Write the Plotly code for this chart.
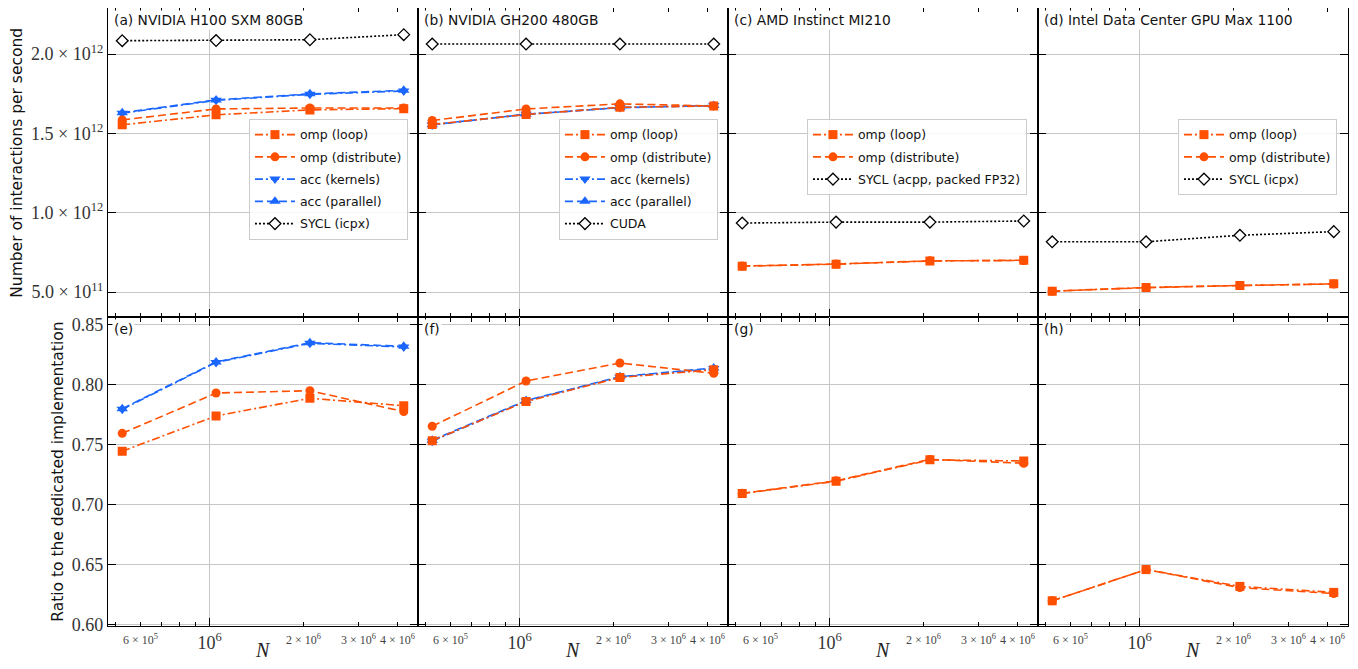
import math
import plotly.graph_objects as go
from plotly.subplots import make_subplots

# ---------------- data ----------------
N = [524288, 1048576, 2097152, 4194304]

# interactions per second, in units of 1e12
h100_loop = [1.554, 1.617, 1.648, 1.656]
h100_dist = [1.585, 1.654, 1.660, 1.660]
h100_kern = [1.627, 1.708, 1.746, 1.767]
h100_par = [1.630, 1.711, 1.749, 1.771]
h100_sycl = [2.084, 2.085, 2.090, 2.122]

gh200_loop = [1.556, 1.619, 1.664, 1.673]
gh200_dist = [1.581, 1.654, 1.686, 1.673]
gh200_kern = [1.553, 1.621, 1.663, 1.676]
gh200_par = [1.555, 1.620, 1.662, 1.675]
gh200_cuda = [2.063, 2.063, 2.063, 2.063]

mi210_loop = [0.663, 0.676, 0.696, 0.701]
mi210_dist = [0.664, 0.677, 0.697, 0.699]
mi210_sycl = [0.935, 0.941, 0.941, 0.948]

max1100_loop = [0.506, 0.529, 0.542, 0.552]
max1100_dist = [0.506, 0.528, 0.541, 0.551]
max1100_sycl = [0.817, 0.817, 0.858, 0.881]

# ratio to the dedicated implementation
h100_loop_r = [0.7446, 0.7740, 0.7887, 0.7825]
h100_dist_r = [0.7595, 0.7931, 0.7950, 0.7776]
h100_kern_r = [0.7795, 0.8186, 0.8345, 0.8314]
h100_par_r = [0.7800, 0.8190, 0.8350, 0.8320]

gh200_loop_r = [0.7534, 0.7860, 0.8060, 0.8125]
gh200_dist_r = [0.7654, 0.8031, 0.8181, 0.8095]
gh200_kern_r = [0.7530, 0.7865, 0.8063, 0.8135]
gh200_par_r = [0.7538, 0.7868, 0.8067, 0.8140]

mi210_loop_r = [0.7093, 0.7196, 0.7374, 0.7365]
mi210_dist_r = [0.7095, 0.7200, 0.7378, 0.7346]

max1100_loop_r = [0.620, 0.646, 0.632, 0.627]
max1100_dist_r = [0.620, 0.646, 0.631, 0.626]

panel_titles = ["(a) NVIDIA H100 SXM 80GB", "(b) NVIDIA GH200 480GB",
                "(c) AMD Instinct MI210", "(d) Intel Data Center GPU Max 1100"]
bottom_labels = ["(e)", "(f)", "(g)", "(h)"]
y_titles = ["Number of interactions per second", "Ratio to the dedicated implementation"]

top_yticks = [0.5e12, 1.0e12, 1.5e12, 2.0e12]
top_yticktext = ["5.0 × 10<sup>11</sup>", "1.0 × 10<sup>12</sup>",
                 "1.5 × 10<sup>12</sup>", "2.0 × 10<sup>12</sup>"]
bot_yticks = [0.60, 0.65, 0.70, 0.75, 0.80, 0.85]
bot_yticktext = ["0.60", "0.65", "0.70", "0.75", "0.80", "0.85"]
x_major = [1e6]
x_major_text = ["10<sup>6</sup>"]
x_minor = [5e5, 6e5, 7e5, 8e5, 9e5, 2e6, 3e6, 4e6]
x_minor_labels = [6e5, 2e6, 3e6, 4e6]
x_minor_text = ["6 × 10<sup>5</sup>", "2 × 10<sup>6</sup>", "3 × 10<sup>6</sup>", "4 × 10<sup>6</sup>"]

# ---------------- styles ----------------
ORANGE = "#FF4F00"
BLUE = "#1A66FF"
DASHDOT = "8px,3px,2px,3px"
DASH = "8px,4px"
DOT = "2px,2px"
STY = {
    "loop": dict(color=ORANGE, dash=DASHDOT, symbol="square", size=9),
    "dist": dict(color=ORANGE, dash=DASH, symbol="circle", size=9),
    "kern": dict(color=BLUE, dash=DASHDOT, symbol="triangle-down", size=10),
    "par": dict(color=BLUE, dash=DASH, symbol="triangle-up", size=10),
    "ref": dict(color="black", dash=DOT, symbol="diamond", size=9),
}
RANK = {"loop": 1, "dist": 2, "kern": 3, "par": 4, "ref": 5}
DRAW_ORDER = ["kern", "par", "loop", "dist", "ref"]

panels = [
    dict(top={"loop": h100_loop, "dist": h100_dist, "kern": h100_kern, "par": h100_par, "ref": h100_sycl},
         bot={"loop": h100_loop_r, "dist": h100_dist_r, "kern": h100_kern_r, "par": h100_par_r},
         ref_name="SYCL (icpx)"),
    dict(top={"loop": gh200_loop, "dist": gh200_dist, "kern": gh200_kern, "par": gh200_par, "ref": gh200_cuda},
         bot={"loop": gh200_loop_r, "dist": gh200_dist_r, "kern": gh200_kern_r, "par": gh200_par_r},
         ref_name="CUDA"),
    dict(top={"loop": mi210_loop, "dist": mi210_dist, "ref": mi210_sycl},
         bot={"loop": mi210_loop_r, "dist": mi210_dist_r},
         ref_name="SYCL (acpp, packed FP32)"),
    dict(top={"loop": max1100_loop, "dist": max1100_dist, "ref": max1100_sycl},
         bot={"loop": max1100_loop_r, "dist": max1100_dist_r},
         ref_name="SYCL (icpx)"),
]
NAMES = {"loop": "omp (loop)", "dist": "omp (distribute)", "kern": "acc (kernels)", "par": "acc (parallel)"}
LEGENDS = ["legend", "legend2", "legend3", "legend4"]

fig = make_subplots(rows=2, cols=4, horizontal_spacing=0, vertical_spacing=0)

for c, p in enumerate(panels):
    for key in DRAW_ORDER:
        s = STY[key]
        if key in p["top"]:
            fig.add_trace(go.Scatter(
                x=N, y=[v * 1e12 for v in p["top"][key]], mode="lines+markers",
                name=p["ref_name"] if key == "ref" else NAMES[key],
                legend=LEGENDS[c], legendrank=RANK[key], legendgroup=f"g{c}{RANK[key]}",
                line=dict(color=s["color"], dash=s["dash"], width=1.6),
                marker=dict(symbol=s["symbol"], size=s["size"],
                            color="white" if key == "ref" else s["color"],
                            line=dict(color=s["color"], width=1.3 if key == "ref" else 0)),
            ), row=1, col=c + 1)
        if key in p["bot"]:
            fig.add_trace(go.Scatter(
                x=N, y=p["bot"][key], mode="lines+markers", showlegend=False,
                line=dict(color=s["color"], dash=s["dash"], width=1.6),
                marker=dict(symbol=s["symbol"], size=s["size"], color=s["color"], line=dict(width=0)),
            ), row=2, col=c + 1)

SERIF = "Liberation Serif"
SANS = "DejaVu Sans"
H_TOP = 0.4992

axis_common = dict(showline=True, linecolor="black", linewidth=1.2, mirror="ticks",
                   ticks="inside", tickcolor="black", tickwidth=1.3, ticklen=8,
                   showgrid=True, gridcolor="#c6c6c6", gridwidth=1, zeroline=False,
                   automargin=False, tickfont=dict(family=SERIF, size=18, color="#333"))

annotations = []
for r in range(2):
    for c in range(4):
        idx = r * 4 + c + 1
        xa = "xaxis" if idx == 1 else f"xaxis{idx}"
        ya = "yaxis" if idx == 1 else f"yaxis{idx}"
        xref = "x" if idx == 1 else f"x{idx}"
        yref = "y" if idx == 1 else f"y{idx}"
        fig.layout[xa].update(
            type="log", range=[math.log10(4.72e5), math.log10(4.66e6)],
            domain=[c * 0.25, (c + 1) * 0.25],
            tickvals=x_major, ticktext=x_major_text,
            showticklabels=(r == 1),
            minor=dict(tickvals=x_minor, ticks="inside", ticklen=4, tickwidth=1,
                       tickcolor="black", showgrid=False),
            **axis_common)
        if r == 1:
            for v, t in zip(x_minor_labels, x_minor_text):
                annotations.append(dict(x=math.log10(v), y=0, xref=xref, yref=f"{yref} domain",
                                        text=t, showarrow=False, yanchor="top", yshift=-4,
                                        font=dict(family=SERIF, size=12, color="#444")))
            annotations.append(dict(x=0.5, y=0, xref=f"{xref} domain", yref=f"{yref} domain",
                                    text="<i>N</i>", showarrow=False, yanchor="middle", yshift=-24,
                                    font=dict(family=SERIF, size=20, color="#222")))
        if r == 0:
            fig.layout[ya].update(range=[0.34e12, 2.29e12], tickvals=top_yticks, ticktext=top_yticktext,
                                  domain=[H_TOP, 1], showticklabels=(c == 0), **axis_common)
        else:
            fig.layout[ya].update(range=[0.599, 0.856], tickvals=bot_yticks, ticktext=bot_yticktext,
                                  domain=[0, H_TOP], showticklabels=(c == 0), **axis_common)
        label = panel_titles[c] if r == 0 else bottom_labels[c]
        annotations.append(dict(x=0.012, y=0.995, xref=f"{xref} domain", yref=f"{yref} domain",
                                text=label, showarrow=False, xanchor="left", yanchor="top",
                                bgcolor="white",
                                font=dict(family=SANS, size=13.8, color="#111")))

# y-axis titles placed beside the first column
for r, (yref, xpos) in enumerate([("y", -0.0734), ("y5", -0.0403)]):
    annotations.append(dict(x=xpos, y=0.5, xref="paper", yref=f"{yref} domain",
                            text=y_titles[r], textangle=-90, showarrow=False,
                            xanchor="center", yanchor="middle",
                            font=dict(family=SANS, size=15.5, color="#111")))

legend_x = [0.2419, 0.4919, 0.7411, 0.9911]
leg_common = dict(y=0.8204, xanchor="right", yanchor="top", bgcolor="rgba(255,255,255,0.85)",
                  bordercolor="#cccccc", borderwidth=1, font=dict(family=SANS, size=12.5, color="#111"),
                  itemwidth=40, tracegroupgap=3, traceorder="grouped")
fig.update_layout(
    legend=dict(x=legend_x[0], **leg_common),
    legend2=dict(x=legend_x[1], **leg_common),
    legend3=dict(x=legend_x[2], **leg_common),
    legend4=dict(x=legend_x[3], **leg_common),
)

# the page adds an 8px body margin; the figure is sized to fit inside the window
fig.update_layout(width=1342, height=653, margin=dict(l=100, r=2, t=0, b=35),
                  plot_bgcolor="white", paper_bgcolor="white", annotations=annotations,
                  showlegend=True)

fig.write_html("out.html")
